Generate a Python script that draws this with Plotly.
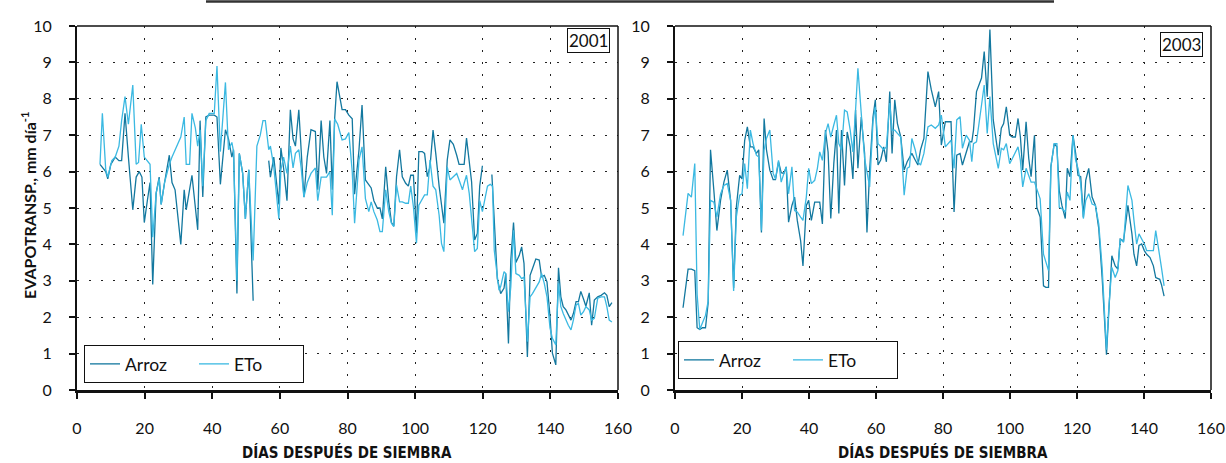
import plotly.graph_objects as go

# ---------------- data ----------------
dias_arroz_2001 = [6.8, 8.5, 9.1, 10.0, 11.3, 12.4, 13.2, 14.2, 15.2, 16.5,
    17.5, 18.4, 19.2, 19.9, 20.8, 21.6, 22.4, 23.4, 24.3, 24.9,
    25.9, 27.3, 28.1, 29.0, 30.7, 31.7, 32.3, 34.0, 35.7, 36.4,
    37.2, 38.1, 39.1, 40.6, 41.4, 42.4, 43.9, 44.8, 45.8, 46.3,
    47.3, 48.0, 49.0, 49.8, 50.8, 52.1, 54.0, 56.7, 57.2, 58.2,
    59.7, 60.3, 61.1, 62.1, 63.1, 63.9, 64.6, 65.6, 66.3, 67.1,
    68.1, 69.2, 70.5, 71.2, 72.2, 73.0, 73.8, 74.8, 75.5, 76.2,
    76.9, 78.4, 79.4, 80.4, 81.4, 82.1, 83.4, 84.3, 85.3, 86.3,
    87.0, 87.8, 88.8, 89.6, 90.3, 91.3, 92.2, 93.0, 93.7, 94.5,
    95.4, 96.2, 97.2, 98.0, 98.7, 99.5, 100.4, 101.1, 102.1, 102.8,
    103.6, 104.4, 105.3, 106.1, 107.1, 108.5, 109.5, 110.3, 111.3, 112.3,
    113.0, 114.0, 114.5, 115.2, 116.0, 116.7, 117.6, 118.4, 119.1, 119.9,
    121.0, 122.7, 123.4, 124.3, 125.3, 126.3, 126.8, 127.6, 128.3, 129.1,
    129.8, 130.8, 131.5, 132.2, 133.2, 134.0, 134.7, 135.7, 136.7, 137.4,
    138.2, 139.0, 139.9, 140.6, 141.6, 142.4, 143.1, 143.8, 144.6, 145.3,
    146.1, 146.8, 147.6, 148.3, 149.0, 149.8, 150.5, 151.5, 152.2, 153.0,
    154.0, 155.0, 156.0, 156.7, 157.4, 158.2]
arroz_2001 = [6.2, 6.0, 5.8, 6.2, 6.4, 6.3, 6.3, 7.6, 6.4, 4.95,
    5.85, 6.0, 5.85, 4.6, 5.2, 5.7, 2.9, 5.4, 5.85, 5.1,
    5.7, 6.45, 5.7, 5.5, 4.0, 5.5, 4.95, 5.9, 4.4, 7.4,
    5.3, 7.5, 7.55, 7.55, 7.5, 5.65, 7.15, 6.9, 6.4, 6.6,
    2.65, 6.5, 5.95, 4.7, 6.05, 2.45, None, 6.3, 5.85, 6.4,
    5.1, 6.65, 6.1, 5.2, 7.7, 6.9, 6.7, 7.7, 6.6, 5.3,
    6.4, 7.15, 7.1, 5.5, 7.4, 6.4, 5.95, 7.4, 5.5, 7.45,
    8.47, 7.7, 7.7, 7.55, 7.45, 5.38, 6.6, 7.83, 5.77, 5.65,
    5.55, 5.2, 5.0, 5.0, 4.7, 6.13, 5.17, 4.6, 4.5, 5.86,
    6.6, 5.86, 5.68, 5.6, 5.9, 5.9, 4.3, 6.55, 6.55, 6.5,
    5.86, 6.13, 7.14, 6.5, 5.6, 4.58, 6.32, 6.87, 6.75, 6.45,
    6.2, 6.2, 6.2, 6.92, 6.32, 5.72, 4.12, 4.3, 5.6, 6.16,
    None, 5.92, 4.67, 3.06, 2.65, 2.8, 3.2, 1.28, 3.57, 4.6,
    3.5, 3.7, 3.93, 3.48, 0.91, 3.15, 3.33, 3.6, 3.57, 3.11,
    3.15, 2.97, 2.01, 1.01, 0.69, 3.36, 2.56, 2.29, 2.2, 2.06,
    1.92, 2.1, 2.43, 2.43, 2.71, 2.5, 2.3, 2.67, 1.78, 2.47,
    2.56, 2.6, 2.67, 2.6, 2.29, 2.4]

dias_eto_2001 = [6.8, 7.5, 8.5, 9.1, 10.3, 11.3, 12.4, 13.2, 14.2, 15.2,
    16.5, 17.5, 18.2, 19.0, 19.9, 20.8, 21.6, 22.4, 23.4, 24.3,
    24.9, 25.9, 27.3, 28.1, 29.0, 30.7, 31.7, 32.3, 33.3, 34.0,
    35.0, 35.7, 36.4, 37.2, 38.1, 39.1, 40.6, 41.4, 42.4, 43.9,
    44.8, 45.8, 46.3, 47.3, 48.0, 49.0, 49.8, 50.8, 52.1, 53.2,
    54.2, 55.0, 55.7, 56.7, 57.2, 58.2, 59.7, 60.3, 61.1, 62.1,
    63.1, 63.9, 64.6, 65.6, 66.3, 67.1, 68.1, 69.2, 70.5, 71.2,
    72.2, 73.0, 73.8, 74.8, 75.5, 76.2, 77.1, 78.4, 79.4, 80.4,
    81.4, 82.1, 83.4, 84.3, 85.3, 86.3, 87.0, 87.8, 88.8, 89.6,
    90.3, 91.3, 92.2, 93.0, 93.7, 94.5, 95.4, 96.2, 97.2, 98.0,
    98.7, 99.5, 100.4, 101.1, 102.1, 102.8, 103.6, 104.4, 105.3, 106.1,
    107.1, 107.8, 108.5, 109.5, 110.3, 111.3, 112.3, 113.0, 114.0, 114.5,
    115.2, 116.0, 116.7, 117.6, 118.4, 119.1, 119.9, 120.7, 121.4, 122.2,
    122.9, 123.4, 124.3, 124.8, 125.3, 126.3, 126.8, 127.6, 128.3, 129.1,
    129.8, 130.8, 131.5, 132.2, 133.2, 134.0, 134.7, 135.7, 136.7, 137.4,
    138.2, 139.0, 139.9, 140.6, 141.6, 142.4, 143.1, 143.8, 144.6, 145.3,
    146.1, 146.8, 147.6, 148.3, 149.0, 149.8, 150.5, 151.5, 152.2, 153.0,
    154.0, 155.0, 156.0, 156.7, 157.4, 158.2]
eto_2001 = [6.2, 7.6, 6.05, 5.85, 6.3, 6.4, 6.7, 7.4, 8.06, 7.3,
    8.38, 6.2, 6.25, 7.3, 6.4, 6.3, 6.2, 4.2, 5.4, 5.8,
    5.1, 5.7, 6.2, 6.4, 6.6, 6.95, 7.5, 6.2, 6.2, 7.6,
    7.2, 6.7, 7.15, 5.6, 7.4, 7.6, 7.6, 8.9, 6.55, 8.45,
    6.6, 6.8, 6.55, 3.0, 6.5, 5.95, 4.7, 6.05, 3.56, 6.7,
    7.0, 7.4, 7.4, 6.6, 6.7, 6.13, 4.7, 6.05, 6.4, 5.95,
    6.7, 6.1, 6.5, 6.6, 6.1, 5.3, 5.7, 5.95, 6.1, 5.2,
    5.85, 5.85, 5.85, 6.0, 4.8, 7.45, 7.3, 6.87, 6.9, 7.07,
    6.0, 4.58, 6.32, 6.68, 5.26, 4.9, 5.17, 4.9, 4.67, 4.35,
    4.35, 5.5, 4.9, 4.58, 4.49, 5.63, 5.17, 5.17, 5.13, 5.13,
    5.6, 5.03, 4.03, 5.08, 5.26, 5.36, 5.36, 6.32, 5.6, 5.5,
    4.8, 4.03, 3.8, 6.13, 5.77, 5.86, 5.95, 5.77, 5.5, 5.68,
    5.9, 5.4, 4.76, 3.8, 3.89, 5.2, 4.9, 5.26, 5.6, 5.65,
    5.6, 3.84, 3.06, 2.74, 2.84, 3.25, 3.2, 2.15, 2.84, 4.39,
    3.2, 3.15, 3.06, 3.1, 1.33, 2.56, 2.65, 2.8, 2.97, 3.2,
    2.93, 2.56, 1.7, 1.42, 1.24, 2.93, 2.29, 2.1, 1.92, 1.78,
    1.65, 1.92, 2.33, 2.38, 2.06, 2.15, 2.29, 2.2, 1.92, 1.97,
    2.52, 2.56, 2.56, 2.29, 1.92, 1.87]

dias_2003 = [2.4, 3.9, 4.9, 5.9, 6.6, 7.4, 8.2, 9.1, 9.9, 10.6,
    11.6, 12.5, 13.6, 14.6, 15.6, 16.6, 17.5, 18.3, 19.3, 20.0,
    20.8, 21.6, 22.5, 23.3, 24.3, 25.0, 25.8, 26.6, 27.3, 28.3,
    29.3, 30.0, 30.9, 31.7, 32.5, 33.2, 33.9, 34.9, 35.7, 36.5,
    37.5, 38.2, 39.2, 39.9, 40.7, 41.7, 42.5, 43.2, 44.0, 44.9,
    45.7, 46.5, 47.4, 48.2, 48.9, 49.7, 50.6, 51.4, 52.3, 53.1,
    53.9, 54.6, 55.6, 56.6, 57.3, 58.1, 59.1, 59.8, 60.6, 61.4,
    62.3, 63.1, 64.1, 64.8, 65.6, 66.4, 67.4, 68.4, 69.3, 70.0,
    70.7, 71.7, 72.5, 73.3, 74.3, 75.5, 76.5, 77.7, 78.7, 79.5,
    80.7, 82.4, 83.3, 84.1, 85.1, 85.8, 86.9, 87.9, 88.6, 89.1,
    90.0, 91.5, 92.3, 93.2, 94.0, 95.0, 96.5, 97.4, 98.1, 98.9,
    99.9, 100.7, 101.6, 102.4, 103.1, 103.8, 104.8, 105.6, 106.3, 107.3,
    108.0, 109.0, 110.0, 110.7, 111.5, 112.2, 113.2, 114.0, 114.7, 115.5,
    116.5, 117.1, 117.9, 118.8, 119.6, 120.3, 121.1, 121.9, 122.6, 123.5,
    124.5, 125.5, 126.5, 127.5, 128.8, 129.5, 130.4, 131.4, 132.2, 132.9,
    133.9, 135.2, 136.4, 137.0, 137.8, 138.5, 139.3, 140.1, 140.8, 141.8,
    142.8, 143.5, 144.7, 145.2, 146.0]
arroz_2003 = [2.26, 3.32, 3.32, 3.28, 1.71, 1.66, 1.71, 1.71, 2.4, 6.6,
    5.48, 4.38, 5.21, 5.71, 6.04, 5.21, 2.8, 5.02, 5.9, 5.8,
    6.86, 7.23, 6.68, 6.68, 6.5, 6.6, 4.33, 7.46, 6.6, 6.04,
    5.78, 5.78, 6.27, 5.97, 5.95, 6.13, 4.61, 5.07, 5.3, 4.66,
    4.1, 3.41, 5.07, 5.21, 4.66, 5.16, 5.16, 5.16, 4.56, 7.14,
    6.54, 4.71, 6.22, 7.14, 4.85, 7.14, 5.62, 7.09, 6.68, 5.8,
    7.69, 6.09, 7.5, 6.5, 4.33, 6.04, 7.5, 7.97, 6.18, 6.32,
    6.68, 6.27, 8.2, 6.5, 7.97, 7.32, 6.95, 6.04, 6.27, 6.4,
    6.5, 6.32, 6.18, 6.6, 6.91, 8.75, 8.25, 7.78, 8.2, 6.73,
    7.37, 7.37, 4.89, 6.45, 6.5, 6.18, 6.5, 6.82, 6.82, 7.14,
    8.2, 8.57, 9.3, 8.06, 9.9, 7.42, 6.45, 7.19, 7.32, 7.78,
    7.0, 6.95, 6.95, 7.46, 6.95, 6.04, 7.37, 6.36, 5.86, 7.0,
    5.02, 4.75, 2.86, 2.82, 2.82, 6.13, 6.77, 6.68, 5.48, 5.07,
    4.71, 6.09, 5.86, 7.0, 6.5, 5.9, 5.86, 4.75, 5.76, 6.09,
    5.3, 5.07, 4.43, 3.09, 0.97, 2.26, 3.69, 3.41, 3.32, 4.15,
    4.1, 5.07, 4.29, 3.73, 3.41, 3.97, 4.01, 3.83, 3.73, 3.64,
    3.41, 3.09, 3.04, 2.9, 2.58]
eto_2003 = [4.24, 5.4, 5.3, 6.22, 2.63, 1.66, 1.85, 2.05, 2.44, 5.21,
    5.16, 4.75, 5.39, 5.62, 5.67, 5.21, 2.72, 4.75, 5.35, 5.39,
    6.22, 5.53, 7.14, 6.77, 6.45, 6.4, 4.38, 6.6, 6.91, 7.14,
    5.95, 5.8, 6.31, 5.71, 5.95, 6.13, 5.39, 6.13, 4.93, 4.89,
    4.75, 4.66, 5.3, 6.09, 5.67, 5.76, 6.09, 6.54, 6.31, 7.05,
    7.32, 6.95, 7.28, 7.55, 6.77, 6.6, 7.69, 7.64, 7.14, 6.54,
    7.69, 8.84, 7.6, 6.36, 5.99, 5.58, 7.37, 7.78, 6.77, 6.68,
    6.6, 6.68, 7.88, 7.14, 7.14, 7.05, 6.95, 5.35, 6.09, 6.13,
    6.91, 6.6, 6.27, 6.18, 6.5, 7.23, 7.28, 7.19, 7.28, 7.55,
    6.68, 6.86, 6.09, 7.42, 7.51, 6.64, 7.0, 6.86, 6.27, 6.77,
    6.82, 7.83, 8.38, 7.05, 8.06, 6.77, 6.09, 6.64, 6.6, 6.77,
    6.22, 6.36, 6.54, 6.68, 6.31, 5.58, 6.09, 5.86, 5.71, 5.71,
    5.53, 5.25, 3.73, 3.5, 3.28, 6.13, 6.77, 6.77, 5.02, 4.98,
    4.89, 5.44, 5.21, 7.0, 6.31, 6.09, 5.67, 4.71, 5.21, 5.39,
    5.11, 5.07, 4.56, 3.37, 1.11, 2.26, 3.37, 3.09, 3.28, 4.15,
    4.06, 5.62, 5.21, 4.66, 4.01, 4.29, 4.15, 4.01, 3.83, 3.83,
    3.83, 4.38, 3.73, 3.37, 2.86]

series_names = ["Arroz", "ETo"]
year_labels = ["2001", "2003"]
x_ticks = [0, 20, 40, 60, 80, 100, 120, 140, 160]
y_ticks = list(range(0, 11))

# ---------------- styling ----------------
W, H = 1226, 463
DARK = "#13789F"
LIGHT = "#3BB9E2"
TICKFONT = dict(family="Lato, 'Open Sans', sans-serif", size=16, color="#111")
TITLEFONT = dict(family="'Liberation Sans Narrow', 'DejaVu Sans Condensed', sans-serif",
                 size=15, color="#111")


def px_x(p):
    return p / W


def px_y(p):
    return 1 - p / H


fig = go.Figure()

fig.add_trace(go.Scatter(x=dias_arroz_2001, y=arroz_2001, mode="lines", name=series_names[0],
                         line=dict(color=DARK, width=1.3), connectgaps=False,
                         xaxis="x", yaxis="y", legend="legend"))
fig.add_trace(go.Scatter(x=dias_eto_2001, y=eto_2001, mode="lines", name=series_names[1],
                         line=dict(color=LIGHT, width=1.3),
                         xaxis="x", yaxis="y", legend="legend"))
fig.add_trace(go.Scatter(x=dias_2003, y=arroz_2003, mode="lines", name=series_names[0],
                         line=dict(color=DARK, width=1.3),
                         xaxis="x2", yaxis="y2", legend="legend2"))
fig.add_trace(go.Scatter(x=dias_2003, y=eto_2003, mode="lines", name=series_names[1],
                         line=dict(color=LIGHT, width=1.3),
                         xaxis="x2", yaxis="y2", legend="legend2"))

GRID = dict(showgrid=True, gridcolor="#222", griddash="2px,10px", gridwidth=1.3)


def xax(domain, anchor):
    return dict(domain=domain, anchor=anchor, range=[0, 160], tickvals=x_ticks,
                ticks="outside", ticklen=6, tickwidth=1.5, tickcolor="#111",
                showline=True, linewidth=2.5, linecolor="#111", zeroline=False,
                tickfont=TICKFONT, ticklabelstandoff=16, ticklabeloverflow="allow",
                fixedrange=True, **GRID)


def yax(domain, anchor):
    return dict(domain=domain, anchor=anchor, range=[0, 10], tickvals=y_ticks,
                ticks="outside", ticklen=6, tickwidth=1.5, tickcolor="#111",
                showline=True, linewidth=2, linecolor="#111", zeroline=False,
                tickfont=TICKFONT, ticklabelstandoff=14, ticklabeloverflow="allow",
                fixedrange=True, **GRID)


LEGFONT = dict(family="Lato, sans-serif", size=17.5, color="#111")
ydom = [px_y(390), px_y(26)]
fig.update_layout(
    width=W, height=H,
    margin=dict(l=0, r=0, t=0, b=0, autoexpand=False),
    paper_bgcolor="white", plot_bgcolor="white",
    xaxis=xax([px_x(77), px_x(618)], "y"),
    yaxis=yax(ydom, "x"),
    xaxis2=xax([px_x(675), px_x(1211)], "y2"),
    yaxis2=yax(ydom, "x2"),
    legend=dict(orientation="h", x=px_x(84), y=px_y(383), xanchor="left", yanchor="bottom",
                bordercolor="#111", borderwidth=1, bgcolor="white", font=LEGFONT,
                entrywidth=64, entrywidthmode="pixels", itemwidth=30),
    legend2=dict(orientation="h", x=px_x(678), y=px_y(379), xanchor="left", yanchor="bottom",
                 bordercolor="#111", borderwidth=1, bgcolor="white", font=LEGFONT,
                 entrywidth=64, entrywidthmode="pixels", itemwidth=30),
    showlegend=True,
)

# frame (top and right, thinner)
for xa, ya in (("x", "y"), ("x2", "y2")):
    fig.add_shape(type="line", xref=f"{xa} domain", yref=f"{ya} domain",
                  x0=0, x1=1, y0=1, y1=1, line=dict(color="#111", width=1.5))
    fig.add_shape(type="line", xref=f"{xa} domain", yref=f"{ya} domain",
                  x0=1, x1=1, y0=0, y1=1, line=dict(color="#111", width=1.5))

# decorative rule at the very top
fig.add_shape(type="line", xref="paper", yref="paper", x0=px_x(206), x1=px_x(1054),
              y0=px_y(1.5), y1=px_y(1.5), line=dict(color="#333", width=2.5))

# year boxes
for txt, xr, yt in ((year_labels[0], 610, 28), (year_labels[1], 1203, 32)):
    fig.add_annotation(text=txt, xref="paper", yref="paper", x=px_x(xr), y=px_y(yt),
                       xanchor="right", yanchor="top", showarrow=False,
                       font=dict(family="Lato, sans-serif", size=17, color="#111"),
                       bordercolor="#111", borderwidth=1, borderpad=1, bgcolor="white")

# axis titles
for xc in (347, 943):
    fig.add_annotation(text="<b>DÍAS DESPUÉS DE SIEMBRA</b>", xref="paper", yref="paper",
                       x=px_x(xc), y=px_y(452), xanchor="center", yanchor="middle",
                       showarrow=False, font=TITLEFONT)

fig.add_annotation(text="<b>EVAPOTRANSP., mm día<sup>-1</sup></b>", xref="paper", yref="paper",
                   x=px_x(28), y=px_y(205), xanchor="center", yanchor="middle",
                   textangle=-90, showarrow=False,
                   font=dict(family="Lato, sans-serif", size=16, color="#111"))

fig.write_html("out.html", config={"displayModeBar": False},
               post_script="document.body.style.margin='0';document.body.style.overflow='hidden';")
